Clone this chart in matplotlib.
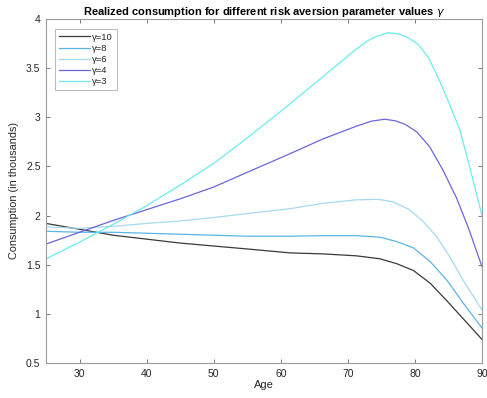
import matplotlib
matplotlib.use('Agg')
import matplotlib.pyplot as plt

plt.rcParams['font.family'] = ['Liberation Sans', 'DejaVu Sans']
plt.rcParams['mathtext.fontset'] = 'dejavusans'

# consumption paths (thousands) by risk aversion gamma
ages_g10 = [25, 30, 35, 40, 45, 50, 55, 61.4, 66.3, 71.3, 74.8, 77.3, 79.8, 82.3,
            84.8, 87.2, 90]
cons_g10 = [1.92, 1.86, 1.80, 1.76, 1.72, 1.69, 1.66, 1.62, 1.61, 1.59, 1.56, 1.51,
            1.44, 1.31, 1.13, 0.95, 0.74]

ages_g8 = [25, 30, 35, 40, 45, 50, 55, 61.4, 66.3, 71.3, 74.8, 77.3, 79.8, 82.3,
           84.8, 87.2, 90]
cons_g8 = [1.84, 1.83, 1.83, 1.82, 1.81, 1.80, 1.79, 1.79, 1.795, 1.795, 1.78, 1.735,
           1.67, 1.53, 1.34, 1.11, 0.855]

ages_g6 = [25, 30, 35, 40, 45, 50, 55, 61.4, 66.3, 71.3, 74.5, 76.7, 79.2, 81.2,
           83.2, 85.2, 87.2, 90]
cons_g6 = [1.885, 1.87, 1.89, 1.92, 1.945, 1.98, 2.02, 2.07, 2.125, 2.16, 2.165, 2.14,
           2.06, 1.94, 1.79, 1.58, 1.34, 1.04]

ages_g4 = [25, 30, 35, 40, 45, 50, 55, 61.4, 66.3, 71.3, 73.5, 75.5, 77, 78.5, 80.3,
           82.2, 84.2, 86.2, 88, 90]
cons_g4 = [1.71, 1.83, 1.95, 2.06, 2.17, 2.29, 2.44, 2.63, 2.78, 2.91, 2.96, 2.98,
           2.965, 2.93, 2.85, 2.70, 2.46, 2.18, 1.87, 1.48]

ages_g3 = [25, 30, 35, 40, 45, 50, 55, 60, 65, 68, 71, 73, 74.5, 76, 77.5, 79, 80.5,
           82, 83.5, 85, 86.7, 88, 90]
cons_g3 = [1.56, 1.73, 1.91, 2.10, 2.31, 2.53, 2.79, 3.06, 3.34, 3.51, 3.68, 3.78,
           3.83, 3.86, 3.85, 3.81, 3.74, 3.61, 3.40, 3.16, 2.87, 2.54, 2.00]

series = [
    (ages_g10, cons_g10, '#3a3a3a', 'γ=10'),
    (ages_g8,  cons_g8,  '#5ab6e4', 'γ=8'),
    (ages_g6,  cons_g6,  '#a6daf0', 'γ=6'),
    (ages_g4,  cons_g4,  '#6a66dc', 'γ=4'),
    (ages_g3,  cons_g3,  '#6cecec', 'γ=3'),
]

y_ticks = [0.5, 1, 1.5, 2, 2.5, 3, 3.5, 4]
y_tick_labels = ['0.5', '1', '1.5', '2', '2.5', '3', '3.5', '4']
x_ticks = [30, 40, 50, 60, 70, 80, 90]

fig = plt.figure(figsize=(4.87, 3.98), dpi=100)
ax = fig.add_axes([0.0945, 0.088, 0.8952, 0.8643])

for ages, cons, col, lab in series:
    ax.plot(ages, cons, color=col, lw=0.9, label=lab)

ax.set_xlim(25, 90)
ax.set_ylim(0.5, 4)
ax.set_xticks(x_ticks)
ax.set_yticks(y_ticks)
ax.set_yticklabels(y_tick_labels)

for spine in ax.spines.values():
    spine.set_color('#9a9a9a')
    spine.set_linewidth(0.8)
ax.tick_params(direction='in', top=True, right=True, length=3, width=0.6,
               color='#6a6a6a', labelsize=7.5, labelcolor='#262626', pad=4)

ax.set_xlabel('Age', fontsize=8, color='#262626', labelpad=1)
ax.set_ylabel('Consumption (in thousands)', fontsize=7.8, color='#262626', labelpad=5)
ax.set_title(r'Realized consumption for different risk aversion parameter values $\gamma$',
             fontsize=8, fontweight='bold', color='#000000', pad=3)

leg = ax.legend(loc='upper left', fontsize=6.8, handlelength=3.3, handletextpad=0.25,
                labelspacing=0.22, borderpad=0.4, fancybox=False,
                bbox_to_anchor=(0.02, 0.971), borderaxespad=0.0)
leg.get_frame().set_edgecolor('#9a9a9a')
leg.get_frame().set_linewidth(0.6)
for t in leg.get_texts():
    t.set_color('#262626')

fig.savefig('out.png', dpi=100)
